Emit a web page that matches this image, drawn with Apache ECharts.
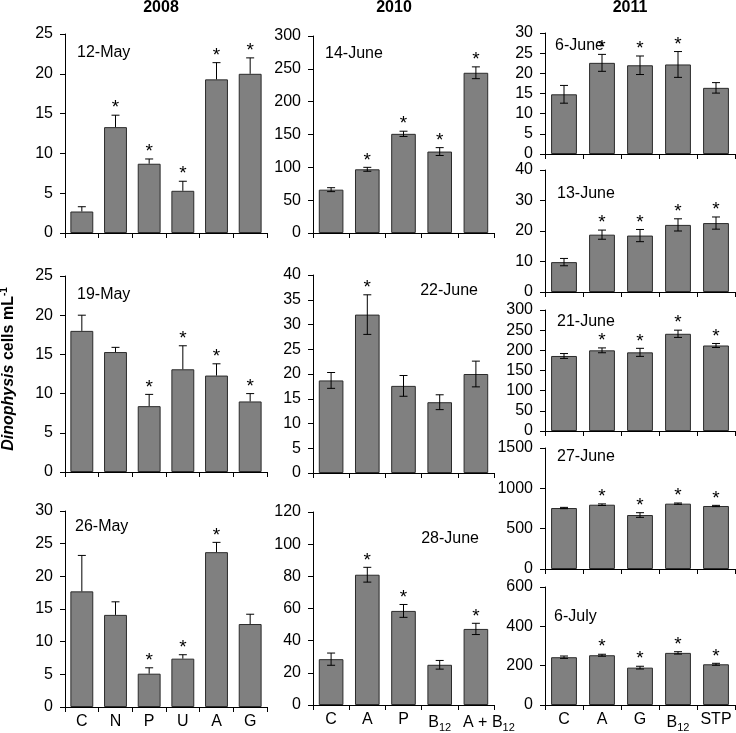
<!DOCTYPE html>
<html><head><meta charset="utf-8">
<script src="https://cdn.jsdelivr.net/npm/echarts@6/dist/echarts.min.js"></script>
<style>html,body{margin:0;padding:0;background:#fff}#c{width:736px;height:733px}</style>
</head><body><div id="c"></div>
<script>
// ---------- categories ----------
const cats2008 = ['C', 'N', 'P', 'U', 'A', 'G'];
const cats2010 = ['C', 'A', 'P', 'B12', 'A + B12'];
const cats2011 = ['C', 'A', 'G', 'B12', 'STP'];

// ---------- 2008 ----------
const may12Vals = [2.7, 13.3, 8.7, 5.3, 19.3, 20.0];
const may12Errs = [0.6, 1.5, 0.6, 1.2, 2.1, 2.0];
const may12Sig  = [0, 1, 1, 1, 1, 1];
const may19Vals = [18.0, 15.3, 8.4, 13.1, 12.3, 9.0];
const may19Errs = [2.0, 0.6, 1.5, 3.0, 1.5, 1.0];
const may19Sig  = [0, 0, 1, 1, 1, 1];
const may26Vals = [17.7, 14.1, 5.1, 7.4, 23.7, 12.7];
const may26Errs = [5.5, 2.0, 0.9, 0.6, 1.5, 1.5];
const may26Sig  = [0, 0, 1, 1, 1, 0];

// ---------- 2010 ----------
const jun14Vals = [66, 97, 151, 124, 244];
const jun14Errs = [3, 3, 4, 6, 9];
const jun14Sig  = [0, 1, 1, 1, 1];
const jun22Vals = [18.7, 32.0, 17.6, 14.3, 20.0];
const jun22Errs = [1.6, 4.0, 2.1, 1.5, 2.6];
const jun22Sig  = [0, 1, 0, 0, 0];
const jun28Vals = [28.5, 81, 58.5, 25, 47.3];
const jun28Errs = [3.8, 4.6, 4.0, 2.7, 3.5];
const jun28Sig  = [0, 1, 1, 0, 1];

// ---------- 2011 ----------
const jun6Vals  = [14.8, 22.6, 22.0, 22.2, 16.4];
const jun6Errs  = [2.2, 2.1, 2.3, 3.2, 1.3];
const jun6Sig   = [0, 1, 1, 1, 0];
const jun13Vals = [9.8, 18.8, 18.5, 22.0, 22.6];
const jun13Errs = [1.2, 1.5, 2.0, 2.0, 2.0];
const jun13Sig  = [0, 1, 1, 1, 1];
const jun21Vals = [186, 200, 195, 241, 212];
const jun21Errs = [6, 6, 10, 9, 5];
const jun21Sig  = [0, 1, 1, 1, 1];
const jun27Vals = [756, 797, 669, 810, 781];
const jun27Errs = [8, 10, 29, 8, 8];
const jun27Sig  = [0, 1, 1, 1, 1];
const jul6Vals  = [243, 253, 190, 265, 207];
const jul6Errs  = [6, 5, 7, 6, 5];
const jul6Sig   = [0, 1, 1, 1, 1];

// ---------- y axis ticks ----------
const yMax = [25, 25, 30, 300, 40, 120, 30, 40, 300, 1500, 600];
const yStep = [5, 5, 5, 50, 5, 20, 5, 10, 50, 500, 200];

const dateLabels = ['12-May', '19-May', '26-May', '14-June', '22-June', '28-June',
                    '6-June', '13-June', '21-June', '27-June', '6-July'];
const yearLabels = ['2008', '2010', '2011'];

// panel data assembly
const panels = [
  {cats: cats2008, v: may12Vals, e: may12Errs, s: may12Sig, two: false},
  {cats: cats2008, v: may19Vals, e: may19Errs, s: may19Sig, two: false},
  {cats: cats2008, v: may26Vals, e: may26Errs, s: may26Sig, two: false, bottom: true},
  {cats: cats2010, v: jun14Vals, e: jun14Errs, s: jun14Sig, two: true},
  {cats: cats2010, v: jun22Vals, e: jun22Errs, s: jun22Sig, two: true},
  {cats: cats2010, v: jun28Vals, e: jun28Errs, s: jun28Sig, two: true, bottom: true},
  {cats: cats2011, v: jun6Vals,  e: jun6Errs,  s: jun6Sig,  two: true},
  {cats: cats2011, v: jun13Vals, e: jun13Errs, s: jun13Sig, two: true},
  {cats: cats2011, v: jun21Vals, e: jun21Errs, s: jun21Sig, two: true},
  {cats: cats2011, v: jun27Vals, e: jun27Errs, s: jun27Sig, two: true},
  {cats: cats2011, v: jul6Vals,  e: jul6Errs,  s: jul6Sig,  two: true, bottom: true}
];

// layout (pixels)
const layout = [
  {l: 65, t: 34, w: 202, h: 199},
  {l: 65, t: 276, w: 202, h: 196},
  {l: 65, t: 511, w: 202, h: 196},
  {l: 313, t: 36, w: 181, h: 197},
  {l: 313, t: 275, w: 181, h: 198},
  {l: 313, t: 512, w: 181, h: 195},
  {l: 545, t: 33, w: 190, h: 121},
  {l: 545, t: 170, w: 190, h: 122},
  {l: 545, t: 310, w: 190, h: 121},
  {l: 545, t: 448, w: 190, h: 121},
  {l: 545, t: 587, w: 190, h: 120}
];
const labelPos = [
  {x: 77, y: 53, a: 'left'}, {x: 77, y: 295, a: 'left'}, {x: 75, y: 527, a: 'left'},
  {x: 325, y: 54, a: 'left'}, {x: 478, y: 291, a: 'right'}, {x: 479, y: 539, a: 'right'},
  {x: 555, y: 46, a: 'left'}, {x: 557, y: 194, a: 'left'}, {x: 557, y: 322, a: 'left'},
  {x: 557, y: 457, a: 'left'}, {x: 554, y: 617, a: 'left'}
];
const yearPos = [{x: 161, y: 8}, {x: 394, y: 8}, {x: 630, y: 8}];

const FONT = '"Liberation Sans", Arial, Helvetica, sans-serif';
const AX = '#000';

function catLabel(v) {
  if (v === 'A + B12') return '{w|A + B}{ws|12}';
  return v.replace('B12', 'B{s|12}');
}

const grid = [], xAxis = [], yAxis = [], series = [];
panels.forEach((p, i) => {
  const L = layout[i];
  grid.push({left: L.l, top: L.t, width: L.w, height: L.h, containLabel: false});
  xAxis.push({
    type: 'category', gridIndex: i, data: p.cats,
    axisLine: {show: true, lineStyle: {color: AX, width: 1}},
    axisTick: {show: true, length: 5, alignWithLabel: false, lineStyle: {color: AX}},
    axisLabel: {
      show: !!p.bottom, interval: 0, margin: 7, color: '#000', fontSize: 16, fontFamily: FONT,
      formatter: catLabel,
      rich: {
        s: {fontSize: 11, fontFamily: FONT, color: '#000', padding: [10, 0, 0, 0]},
        w: {fontSize: 16, fontFamily: FONT, color: '#000', padding: [0, 0, 0, 26]},
        ws: {fontSize: 11, fontFamily: FONT, color: '#000', padding: [10, 0, 0, 0]}
      }
    },
    splitLine: {show: false}
  });
  yAxis.push({
    type: 'value', gridIndex: i, min: 0, max: yMax[i], interval: yStep[i],
    axisLine: {show: true, lineStyle: {color: AX, width: 1}},
    axisTick: {show: true, length: 5, lineStyle: {color: AX}},
    axisLabel: {margin: 12, color: '#000', fontSize: 16, fontFamily: FONT, formatter: v => String(v)},
    splitLine: {show: false}
  });
  series.push({
    type: 'bar', xAxisIndex: i, yAxisIndex: i, data: p.v,
    barCategoryGap: '32%',
    itemStyle: {color: '#808080', borderColor: '#2b2b2b', borderWidth: 1},
    silent: true, animation: false
  });
  const two = p.two;
  series.push({
    type: 'custom', xAxisIndex: i, yAxisIndex: i, animation: false, silent: true,
    encode: {x: 0, y: 1}, z: 5,
    data: p.v.map((v, k) => [k, v, p.e[k], p.s[k]]),
    renderItem: (params, api) => {
      const x = api.value(0), v = api.value(1), e = api.value(2), s = api.value(3);
      const top = api.coord([x, v + e]);
      const bot = api.coord([x, two ? v - e : v]);
      const st = {stroke: '#000', lineWidth: 1};
      const ch = [
        {type: 'line', shape: {x1: top[0], y1: top[1], x2: bot[0], y2: bot[1]}, style: st},
        {type: 'line', shape: {x1: top[0] - 4, y1: top[1], x2: top[0] + 4, y2: top[1]}, style: st}
      ];
      if (two) ch.push({type: 'line', shape: {x1: bot[0] - 4, y1: bot[1], x2: bot[0] + 4, y2: bot[1]}, style: st});
      if (s) ch.push({type: 'text', x: top[0], y: top[1] - 7,
        style: {text: '*', fontSize: 19, fontFamily: FONT, fill: '#000', align: 'center', verticalAlign: 'middle'}});
      return {type: 'group', children: ch};
    }
  });
});

const graphic = [];
dateLabels.forEach((t, i) => {
  const P = labelPos[i];
  graphic.push({type: 'text', x: P.x, y: P.y, z: 10,
    style: {text: t, fontSize: 16, fontFamily: FONT, fill: '#000', align: P.a, verticalAlign: 'middle'}});
});
yearLabels.forEach((t, i) => {
  graphic.push({type: 'text', x: yearPos[i].x, y: yearPos[i].y,
    style: {text: t, fontSize: 16, fontWeight: 'bold', fontFamily: FONT, fill: '#000', align: 'center', verticalAlign: 'middle'}});
});
graphic.push({type: 'text', x: 9, y: 369, rotation: Math.PI / 2,
  style: {
    text: '{i|Dinophysis}{b| cells mL}{p|-1}', align: 'center', verticalAlign: 'middle',
    rich: {
      i: {fontSize: 16, fontWeight: 'bold', fontStyle: 'italic', fontFamily: FONT, fill: '#000'},
      b: {fontSize: 16, fontWeight: 'bold', fontFamily: FONT, fill: '#000'},
      p: {fontSize: 10, fontWeight: 'bold', fontFamily: FONT, fill: '#000', padding: [0, 0, 9, 0]}
    }
  }});

const chart = echarts.init(document.getElementById('c'), null, {renderer: 'canvas'});
chart.setOption({animation: false, backgroundColor: '#fff', grid, xAxis, yAxis, series, graphic});
</script></body></html>
